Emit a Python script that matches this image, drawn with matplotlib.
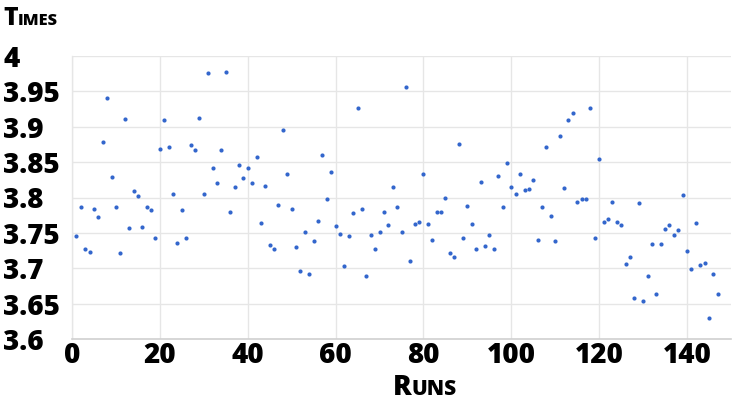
import matplotlib
matplotlib.use("Agg")
import matplotlib.pyplot as plt

runs = list(range(1, 148))
times = [
    3.746, 3.786, 3.727, 3.723, 3.784, 3.773, 3.878, 3.940, 3.829, 3.787,
    3.722, 3.911, 3.757, 3.809, 3.802, 3.758, 3.787, 3.783, 3.743, 3.868,
    3.910, 3.872, 3.805, 3.736, 3.783, 3.743, 3.874, 3.867, 3.912, 3.805,
    3.976, 3.841, 3.821, 3.867, 3.978, 3.779, 3.815, 3.846, 3.827, 3.841,
    3.821, 3.857, 3.764, 3.816, 3.733, 3.727, 3.790, 3.896, 3.833, 3.784,
    3.730, 3.696, 3.751, 3.692, 3.739, 3.767, 3.860, 3.798, 3.836, 3.760,
    3.749, 3.703, 3.745, 3.778, 3.927, 3.784, 3.689, 3.747, 3.727, 3.751,
    3.780, 3.761, 3.815, 3.786, 3.751, 3.956, 3.710, 3.763, 3.765, 3.833,
    3.762, 3.740, 3.780, 3.780, 3.800, 3.722, 3.716, 3.875, 3.743, 3.788,
    3.763, 3.727, 3.822, 3.732, 3.747, 3.727, 3.831, 3.786, 3.849, 3.815,
    3.805, 3.833, 3.810, 3.812, 3.825, 3.740, 3.786, 3.872, 3.774, 3.739,
    3.887, 3.813, 3.910, 3.920, 3.794, 3.798, 3.798, 3.927, 3.743, 3.855,
    3.765, 3.769, 3.794, 3.765, 3.761, 3.706, 3.716, 3.658, 3.792, 3.654,
    3.689, 3.734, 3.663, 3.734, 3.756, 3.761, 3.747, 3.754, 3.804, 3.725,
    3.699, 3.764, 3.705, 3.707, 3.630, 3.692, 3.663,
]
x_ticks = [0, 20, 40, 60, 80, 100, 120, 140]
y_ticks = [3.6, 3.65, 3.7, 3.75, 3.8, 3.85, 3.9, 3.95, 4.0]
y_tick_labels = ["3.6", "3.65", "3.7", "3.75", "3.8", "3.85", "3.9", "3.95", "4"]

FONT = ["Open Sans", "DejaVu Sans"]
WEIGHT = 800
W, H = 732, 405
fig = plt.figure(figsize=(W / 100, H / 100), dpi=100)
ax = fig.add_axes([72 / W, (H - 339) / H, 659 / W, 283 / H])

ax.scatter(runs, times, s=9, color="#3366cc", linewidths=0, zorder=3)

ax.set_xlim(0, 150)
ax.set_ylim(3.6, 4.0)
ax.set_xticks(x_ticks)
ax.set_xticklabels([str(t) for t in x_ticks], fontsize=20, fontweight=WEIGHT, family=FONT)
ax.set_yticks(y_ticks)
ax.set_yticklabels(y_tick_labels, fontsize=20, fontweight=WEIGHT, family=FONT, ha="left")
ax.tick_params(axis="y", length=0, pad=49.5)
ax.tick_params(axis="x", length=0, pad=1.5)
ax.grid(True, color="#e6e6e6", linewidth=1)
ax.set_axisbelow(True)
for side in ["top", "right"]:
    ax.spines[side].set_visible(False)
ax.spines["left"].set_color("#e6e6e6")
ax.spines["bottom"].set_color("#d0d0d0")
ax.spines["left"].set_linewidth(1)
ax.spines["bottom"].set_linewidth(1.2)

fig.canvas.draw()
r = fig.canvas.get_renderer()

# Title "TIMES" in small caps
t1 = fig.text(3 / W, (H - 25) / H, "T", fontsize=17.8, fontweight=WEIGHT, family=FONT, va="baseline", ha="left")
fig.canvas.draw()
bb = t1.get_window_extent(r)
fig.text(bb.x1 / W, (H - 25) / H, "IMES", fontsize=11.8, fontweight=WEIGHT, family=FONT, va="baseline", ha="left")

# X label "RUNS" in small caps
r1 = fig.text(393 / W, (H - 395) / H, "R", fontsize=20, fontweight=WEIGHT, family=FONT, va="baseline", ha="left")
fig.canvas.draw()
bb = r1.get_window_extent(r)
fig.text(bb.x1 / W, (H - 395) / H, "UNS", fontsize=15, fontweight=WEIGHT, family=FONT, va="baseline", ha="left")

fig.savefig("out.png", dpi=100)
